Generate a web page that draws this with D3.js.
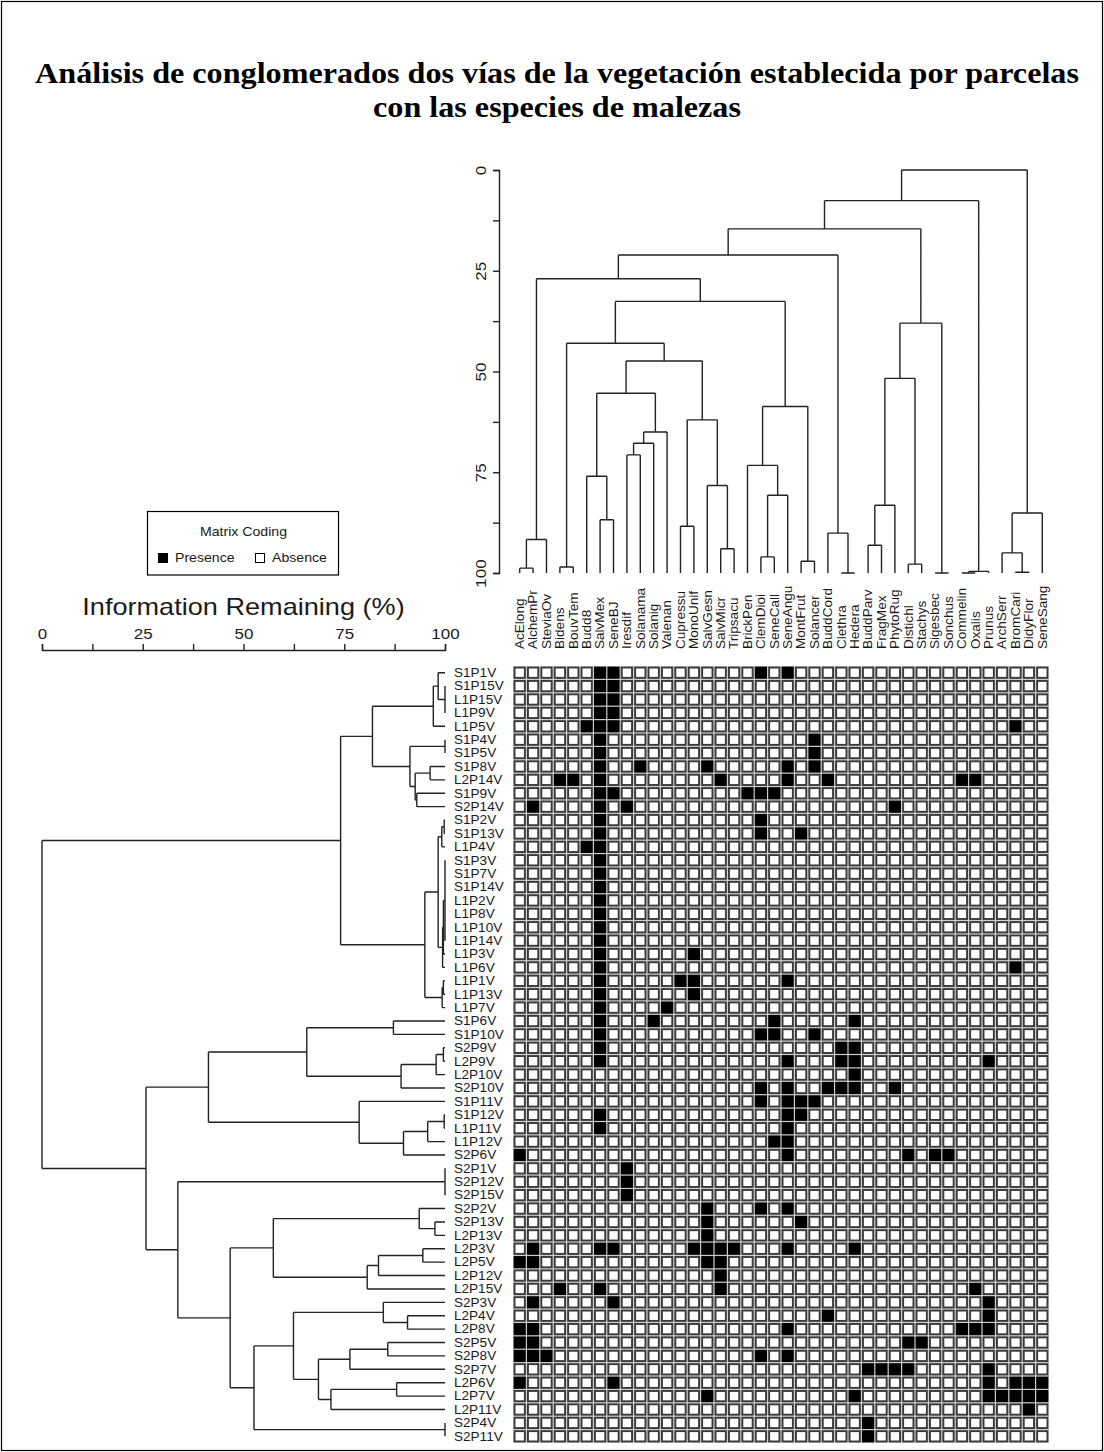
<!DOCTYPE html>
<html><head><meta charset="utf-8">
<script src="https://cdn.jsdelivr.net/npm/d3@7"></script>
<style>body{margin:0;background:#fff} svg{display:block}</style>
</head><body>
<svg id="c" width="1104" height="1452"></svg>
<script>
const titleLines = ["Análisis de conglomerados dos vías de la vegetación establecida por parcelas", "con las especies de malezas"];
const axisTitle = "Information Remaining (%)";
const legendTitle = "Matrix Coding";
const legendItems = ["Presence", "Absence"];

const rowLabels = ["S1P1V","S1P15V","L1P15V","L1P9V","L1P5V","S1P4V","S1P5V","S1P8V","L2P14V","S1P9V","S2P14V",
  "S1P2V","S1P13V","L1P4V","S1P3V","S1P7V","S1P14V","L1P2V","L1P8V","L1P10V","L1P14V","L1P3V","L1P6V","L1P1V",
  "L1P13V","L1P7V","S1P6V","S1P10V","S2P9V","L2P9V","L2P10V","S2P10V","S1P11V","S1P12V","L1P11V","L1P12V","S2P6V",
  "S2P1V","S2P12V","S2P15V","S2P2V","S2P13V","L2P13V","L2P3V","L2P5V","L2P12V","L2P15V","S2P3V","L2P4V","L2P8V",
  "S2P5V","S2P8V","S2P7V","L2P6V","L2P7V","L2P11V","S2P4V","S2P11V"];

const colLabels = ["AcElong","AlchemPr","SteviaOv","Bidens","BouvTem","Budd8","SalvMex","SeneBJ","Iresdif","Solanama",
  "Solanig","Valenan","Cupressu","MonoUnif","SalvGesn","SalvMicr","Tripsacu","BrickPen","ClemDioi","SeneCall",
  "SeneAngu","MontFrut","Solancer","BuddCord","Clethra","Hedera","BuddParv","FragMex","PhytoRug","Distichl",
  "Stachys","Sigesbec","Sonchus","Commelin","Oxalis","Prunus","ArchSerr","BromCari","DidyFlor","SeneSang"];

// column numbers (1-based) where each row shows presence, in row order
const presence = [
  [7,8,19,21],[7,8],[7,8],[7,8],[6,7,8,38],[7,23],[7,23],[7,10,15,21,23],[4,5,7,16,21,24,34,35],[7,8,18,19,20],[2,7,9,29],
  [7,19],[7,19,22],[6,7],[7],[7],[7],[7],[7],[7],[7],[7,14],[7,38],[7,13,14,21],
  [7,14],[7,12],[7,11,20,26],[7,19,20,23],[7,25,26],[7,21,25,26,36],[26],[19,21,24,25,26,29],[19,21,22,23],[7,21,22],[7,21],[20,21],[1,21,30,32,33],
  [9],[9],[9],[15,19,21],[15,22],[15],[2,7,8,14,15,16,17,21,26],[1,2,15,16],[16],[4,7,16,35],[2,8,36],[24,36],[1,2,21,34,35,36],
  [1,2,30,31],[1,2,3,19,21],[27,28,29,30,36],[1,8,36,38,39,40],[15,26,36,37,38,39,40],[39],[27],[27]
];

// dendrograms: [information remaining %, child, child, ...]
const rowTree = [0,
  [74.1,
    [82.0,
      [97.1, [98.3, "S1P1V", [100, "S1P15V","L1P15V","L1P9V"]], "L1P5V"],
      [91.3, [100, "S1P4V","S1P5V"], [92.6, [96.3, "S1P8V","L2P14V"], [93.0, "S1P9V","S2P14V"]]]
    ],
    [95.0,
      [98.3, [99.2, [99.8, "S1P2V","S1P13V"], "L1P4V"],
             [99.4, [99.6, [100, "S1P3V","S1P7V","S1P14V","L1P2V","L1P8V","L1P10V","L1P14V"], "L1P3V"], "L1P6V"]],
      [99.3, [99.6, "L1P1V","L1P13V"], "L1P7V"]
    ]
  ],
  [25.8,
    [41.3,
      [65.7, [87.2, "S1P6V","S1P10V"], [89.1, [97.8, [99.6, "S2P9V","L2P9V"], "L2P10V"], "S2P10V"]],
      [78.7, "S1P11V", [89.7, [95.7, [99.8, "S1P12V","L1P11V"], "L1P12V"], "S2P6V"]]
    ],
    [33.7,
      [100, "S2P1V","S2P12V","S2P15V"],
      [46.7,
        [57.4, [93.6, "S2P2V", [97.5, "S2P13V","L2P13V"]], [80.7, [83.5, [94.5, "L2P3V","L2P5V"], "L2P12V"], "L2P15V"]],
        [52.6,
          [62.4, [84.7, "S2P3V", [90.7, "L2P4V","L2P8V"]],
                 [68.6, [76.4, [85.8, "S2P5V","S2P8V"], "S2P7V"], [71.7, [88.0, "L2P6V","L2P7V"], "L2P11V"]]],
          [100, "S2P4V","S2P11V"]
        ]
      ]
    ]
  ]
];

const colTree = [0,
  [7.6,
    [14.6,
      [21.1,
        [27.0,
          [91.7, [98.8, "AcElong","AlchemPr"], "SteviaOv"],
          [32.6,
            [43.0,
              [98.5, "Bidens","BouvTem"],
              [47.4,
                [55.4, [76.0, "Budd8", [86.8, "SalvMex","SeneBJ"]], [65.0, [67.8, [70.7, "Iresdif","Solanama"], "Solanig"], "Valenan"]],
                [62.0, [88.4, "Cupressu","MonoUnif"], [78.3, "SalvGesn", [94.0, "SalvMicr","Tripsacu"]]]
              ]
            ],
            [58.7, [73.3, "BrickPen", [80.7, [96.0, "ClemDioi","SeneCall"], "SeneAngu"]], [97.1, "MontFrut","Solancer"]]
          ]
        ],
        [90.1, "BuddCord", [100, "Clethra","Hedera"]]
      ],
      [38.0, [51.7, [83.2, [93.1, "BuddParv","FragMex"], "PhytoRug"], [97.8, "Distichl","Stachys"]], [100, "Sigesbec","Sonchus"]]
    ],
    [99.6, [100, "Commelin","Oxalis"], "Prunus"]
  ],
  [85.1, [95.0, "ArchSerr", [99.8, "BromCari","DidyFlor"]], "SeneSang"]
];

const infoTicks = [0, 12.5, 25, 37.5, 50, 62.5, 75, 87.5, 100];
const infoTickLabels = [0, 25, 50, 75, 100];

// ---------------------------------------------------------------
const svg = d3.select("#c");
const SANS = "'Liberation Sans', Arial, sans-serif";
const SX = 1.13; // horizontal widening of the sans glyphs in the original
const INK = "#1a1a1a";

svg.append("rect").attr("x", 1.5).attr("y", 1.5).attr("width", 1101).attr("height", 1449)
  .attr("fill", "#fff").attr("stroke", "#000").attr("stroke-width", 1.2);

// title
svg.append("g").selectAll("text").data(titleLines).join("text")
  .attr("transform", (d, i) => `translate(557,${83 + i * 34}) scale(1.055,1)`)
  .attr("text-anchor", "middle")
  .attr("font-family", "'Liberation Serif', 'Times New Roman', serif")
  .attr("font-weight", "bold").attr("font-size", 30.5).attr("fill", "#000")
  .text(d => d);

// scales
const rowBand = d3.scaleBand().domain(rowLabels).range([666, 1443]);
const colBand = d3.scaleBand().domain(colLabels).range([513, 1049]);
const infoX = d3.scaleLinear().domain([0, 100]).range([42, 445]);
const infoY = d3.scaleLinear().domain([0, 100]).range([170, 573]);
const rbw = rowBand.bandwidth(), cbw = colBand.bandwidth();

// matrix
const mat = svg.append("g");
mat.append("rect").attr("x", 513).attr("y", 666).attr("width", 536).attr("height", 777).attr("fill", "#cdcdcd");
const cells = [];
rowLabels.forEach((r, i) => colLabels.forEach((c, j) => cells.push({r, c, on: presence[i].includes(j + 1)})));
const sw = 1.9;
mat.selectAll("rect.cell").data(cells).join("rect").attr("class", "cell")
  .attr("x", d => colBand(d.c) + 0.6 + sw / 2)
  .attr("y", d => rowBand(d.r) + 0.6 + sw / 2)
  .attr("width", cbw - 1.2 - sw)
  .attr("height", rbw - 1.2 - sw)
  .attr("fill", d => d.on ? "#000" : "#fff")
  .attr("stroke", d => d.on ? "#000" : "#3a3a3a")
  .attr("stroke-width", sw);

// row labels
svg.append("g").selectAll("text").data(rowLabels).join("text")
  .attr("transform", d => `translate(454,${rowBand(d) + rbw / 2}) scale(${SX},1)`)
  .attr("dy", "0.36em").attr("font-family", SANS).attr("font-size", 12).attr("fill", INK)
  .text(d => d);

// column labels
svg.append("g").selectAll("text").data(colLabels).join("text")
  .attr("transform", d => `translate(${colBand(d) + cbw / 2},649) rotate(-90) scale(${SX},1)`)
  .attr("dy", "0.36em").attr("font-family", SANS).attr("font-size", 12).attr("fill", INK)
  .text(d => d);

// dendrogram builder
function layoutTree(nested, leafPos) {
  const root = d3.hierarchy(nested, d => Array.isArray(d) ? d.slice(1) : null);
  root.eachAfter(n => {
    if (!n.children) { n.h = 100; n.p = leafPos(n.data); }
    else { n.h = n.data[0]; n.p = (n.children[0].p + n.children[n.children.length - 1].p) / 2; }
  });
  return root;
}

// row dendrogram (left)
const rRoot = layoutTree(rowTree, name => rowBand(name) + rbw / 2);
const rp = d3.path();
rRoot.each(n => {
  if (!n.children) return;
  const x = infoX(n.h);
  rp.moveTo(x, n.children[0].p); rp.lineTo(x, n.children[n.children.length - 1].p);
  n.children.forEach(c => { rp.moveTo(x, c.p); rp.lineTo(infoX(c.h), c.p); });
});
svg.append("path").attr("d", rp.toString()).attr("fill", "none").attr("stroke", "#222").attr("stroke-width", 1.4);

// column dendrogram (top)
const cRoot = layoutTree(colTree, name => colBand(name) + cbw / 2);
const cp = d3.path();
cRoot.each(n => {
  if (!n.children) return;
  const y = infoY(n.h);
  cp.moveTo(n.children[0].p, y); cp.lineTo(n.children[n.children.length - 1].p, y);
  n.children.forEach(c => { cp.moveTo(c.p, y); cp.lineTo(c.p, infoY(c.h)); });
});
svg.append("path").attr("d", cp.toString()).attr("fill", "none").attr("stroke", "#222").attr("stroke-width", 1.4);

// top axis (vertical)
const ay = svg.append("g").attr("transform", "translate(499,0)")
  .call(d3.axisLeft(infoY).tickValues(infoTicks).tickSizeOuter(0).tickSize(6)
    .tickFormat(d => infoTickLabels.includes(d) ? String(d) : ""));
ay.selectAll("text")
  .attr("x", null).attr("dy", "0.36em")
  .attr("transform", `translate(-18,0) rotate(-90) scale(${SX},1)`)
  .attr("text-anchor", "middle").attr("font-family", SANS).attr("font-size", 15).attr("fill", INK);
ay.selectAll("path,line").attr("stroke", "#222").attr("stroke-width", 1.4);

// left axis (horizontal)
const ax = svg.append("g").attr("transform", "translate(0,650)")
  .call(d3.axisTop(infoX).tickValues(infoTicks).tickSizeOuter(0).tickSize(6).tickPadding(5)
    .tickFormat(d => infoTickLabels.includes(d) ? String(d) : ""));
ax.selectAll("text").attr("transform", `scale(${SX},1)`)
  .attr("font-family", SANS).attr("font-size", 15).attr("fill", INK);
ax.selectAll("path,line").attr("stroke", "#222").attr("stroke-width", 1.4);

svg.append("text").attr("transform", `translate(243.5,615) scale(${SX},1)`)
  .attr("text-anchor", "middle").attr("font-family", SANS).attr("font-size", 24).attr("fill", INK)
  .text(axisTitle);

// legend
const lg = svg.append("g");
lg.append("rect").attr("x", 147.5).attr("y", 511.5).attr("width", 191).attr("height", 63.5)
  .attr("fill", "#fff").attr("stroke", "#000").attr("stroke-width", 1.2);
lg.append("text").attr("transform", `translate(243.5,535.5) scale(${SX},1)`).attr("text-anchor", "middle")
  .attr("font-family", SANS).attr("font-size", 12.5).attr("fill", INK).text(legendTitle);
const legX = [158, 255];
lg.selectAll("rect.sw").data(legendItems).join("rect").attr("class", "sw")
  .attr("x", (d, i) => legX[i] + 0.5).attr("y", 553.5).attr("width", 9).attr("height", 9)
  .attr("fill", (d, i) => i === 0 ? "#000" : "#fff").attr("stroke", "#000").attr("stroke-width", 1);
lg.selectAll("text.it").data(legendItems).join("text").attr("class", "it")
  .attr("transform", (d, i) => `translate(${legX[i] + 17},562) scale(${SX},1)`)
  .attr("font-family", SANS).attr("font-size", 12.5).attr("fill", INK).text(d => d);
</script>
</body></html>
